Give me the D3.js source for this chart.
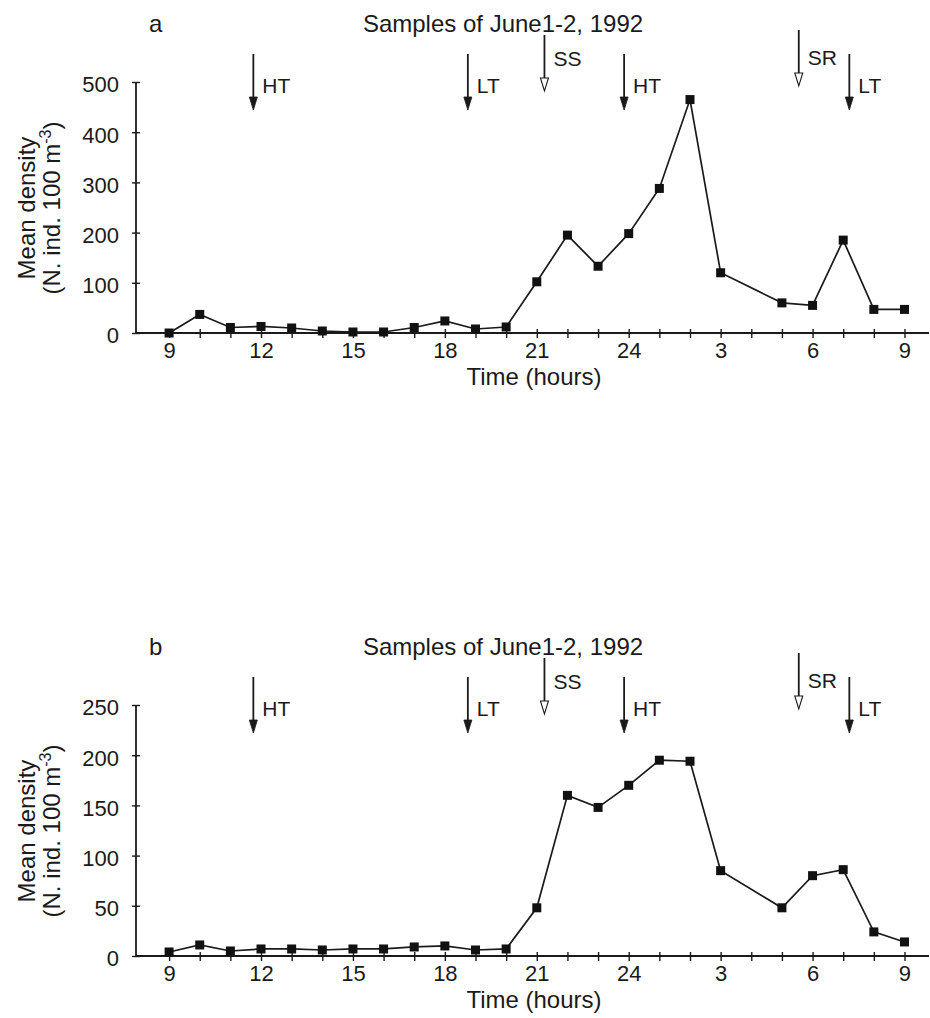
<!DOCTYPE html>
<html>
<head>
<meta charset="utf-8">
<script src="https://cdn.jsdelivr.net/npm/d3@7"></script>
<style>
  body { margin: 0; background: #fff; }
  svg text { font-family: "Liberation Sans", Arial, Helvetica, sans-serif; fill: #1a1a1a; }
</style>
</head>
<body>
<svg id="chart" width="930" height="1018"></svg>
<script>
// Sampling times (hours since midnight of June 1; 27 = 3 a.m. June 2)
const hours = [9, 10, 11, 12, 13, 14, 15, 16, 17, 18, 19, 20, 21, 22, 23, 24, 25, 26, 27, 29, 30, 31, 32, 33];
const densityA = [0, 37, 11, 13, 10, 4, 2, 2, 11, 24, 8, 12, 102, 195, 133, 198, 288, 465, 120, 60, 55, 185, 47, 47];
const densityB = [4, 11, 5, 7, 7, 6, 7, 7, 9, 10, 6, 7, 48, 160, 148, 170, 195, 194, 85, 48, 80, 86, 24, 14];

const xTickValues = [9, 12, 15, 18, 21, 24, 27, 30, 33];
const xTickLabels = ["9", "12", "15", "18", "21", "24", "3", "6", "9"];

// tide / sun events marked by arrows
const eventHours = [11.75, 18.75, 21.25, 23.85, 29.55, 31.2];
const eventLabels = ["HT", "LT", "SS", "HT", "SR", "LT"];

const panelLetters = ["a", "b"];
const panelTitles = ["Samples of June1-2, 1992", "Samples of June1-2, 1992"];
const yMaxes = [500, 250];
const yTickSteps = [100, 50];

const svg = d3.select("#chart");
const ink = "#1a1a1a";

const x = d3.scaleLinear().domain([7.92, 33.8]).range([136, 929]);

// arrow geometry per kind of event: shaft top, tip, label baseline
const arrowStyle = {
    HT: { top: 54, tip: 110, labelY: 93, open: false },
    LT: { top: 54, tip: 110, labelY: 93, open: false },
    SS: { top: 35, tip: 91, labelY: 66, open: true },
    SR: { top: 30, tip: 86, labelY: 65, open: true }
};

function drawPanel(i, values, offsetY) {
    const g = svg.append("g").attr("transform", `translate(0, ${offsetY})`);

    const y = d3.scaleLinear().domain([0, yMaxes[i]]).range([333, 82]);

    // Title and panel letter
    g.append("text")
        .attr("x", 503)
        .attr("y", 32)
        .attr("text-anchor", "middle")
        .attr("font-size", 24)
        .text(panelTitles[i]);

    g.append("text")
        .attr("x", 149)
        .attr("y", 32)
        .attr("font-size", 24)
        .text(panelLetters[i]);

    // Event arrows
    eventHours.forEach((h, k) => {
        const label = eventLabels[k];
        const st = arrowStyle[label];
        const ax = x(h);
        g.append("line")
            .attr("x1", ax).attr("x2", ax)
            .attr("y1", st.top).attr("y2", st.tip - 11)
            .attr("stroke", ink)
            .attr("stroke-width", 1.8);
        g.append("path")
            .attr("d", `M${ax - 4},${st.tip - 13} L${ax + 4},${st.tip - 13} L${ax},${st.tip} Z`)
            .attr("fill", st.open ? "#fff" : ink)
            .attr("stroke", ink)
            .attr("stroke-width", st.open ? 1.1 : 0.8);
        g.append("text")
            .attr("x", ax + 9)
            .attr("y", st.labelY)
            .attr("font-size", 21)
            .text(label);
    });

    // X axis: hourly ticks crossing the line
    const xAxis = d3.axisBottom(x)
        .tickValues(d3.range(9, 34))
        .tickSize(5)
        .tickFormat(d => {
            const idx = xTickValues.indexOf(d);
            return idx >= 0 ? xTickLabels[idx] : "";
        });

    const xg = g.append("g")
        .attr("transform", `translate(0, ${y(0)})`)
        .call(xAxis);
    xg.select(".domain").attr("d", `M136,0H929`).attr("stroke", ink).attr("stroke-width", 1.8);
    xg.selectAll(".tick line").attr("y1", -4).attr("stroke", ink).attr("stroke-width", 1.4);
    xg.selectAll(".tick text")
        .attr("y", 9)
        .attr("font-size", 22)
        .attr("font-family", "Liberation Sans, Arial, sans-serif")
        .attr("fill", ink);

    g.append("text")
        .attr("x", 534)
        .attr("y", 385)
        .attr("text-anchor", "middle")
        .attr("font-size", 24)
        .text("Time (hours)");

    // Y axis
    const yAxis = d3.axisLeft(y)
        .tickValues(d3.range(0, yMaxes[i] + 1, yTickSteps[i]))
        .tickSize(4)
        .tickPadding(13);
    const yg = g.append("g")
        .attr("transform", `translate(${x.range()[0]}, 0)`)
        .call(yAxis);
    yg.select(".domain").attr("d", `M0,${y(0)}V${y(yMaxes[i])}`).attr("stroke", ink).attr("stroke-width", 1.8);
    yg.selectAll(".tick line").attr("x2", 4).attr("x1", -4).attr("stroke", ink).attr("stroke-width", 1.4);
    yg.selectAll(".tick text")
        .attr("dy", "0.45em")
        .attr("font-size", 22)
        .attr("font-family", "Liberation Sans, Arial, sans-serif")
        .attr("fill", ink);

    // Y axis title, two lines
    const yl = g.append("text")
        .attr("transform", "translate(35, 208) rotate(-90)")
        .attr("text-anchor", "middle")
        .attr("font-size", 24);
    yl.append("tspan").attr("x", 0).attr("dy", 0).text("Mean density");
    yl.append("tspan").attr("x", 0).attr("dy", 25).text("(N. ind. 100 m");
    yl.append("tspan").attr("dy", -9).attr("font-size", 16).text("-3");
    yl.append("tspan").attr("dy", 9).text(")");

    // Series line and markers
    const pts = hours.map((h, k) => [h, values[k]]);
    g.append("path")
        .datum(pts)
        .attr("fill", "none")
        .attr("stroke", ink)
        .attr("stroke-width", 1.7)
        .attr("d", d3.line().x(d => x(d[0])).y(d => y(d[1])));

    g.selectAll("rect.pt")
        .data(pts)
        .join("rect")
        .attr("class", "pt")
        .attr("x", d => x(d[0]) - 4.5)
        .attr("y", d => y(d[1]) - 4.5)
        .attr("width", 9)
        .attr("height", 9)
        .attr("fill", "#111");
}

drawPanel(0, densityA, 0);
drawPanel(1, densityB, 623);
</script>
</body>
</html>
